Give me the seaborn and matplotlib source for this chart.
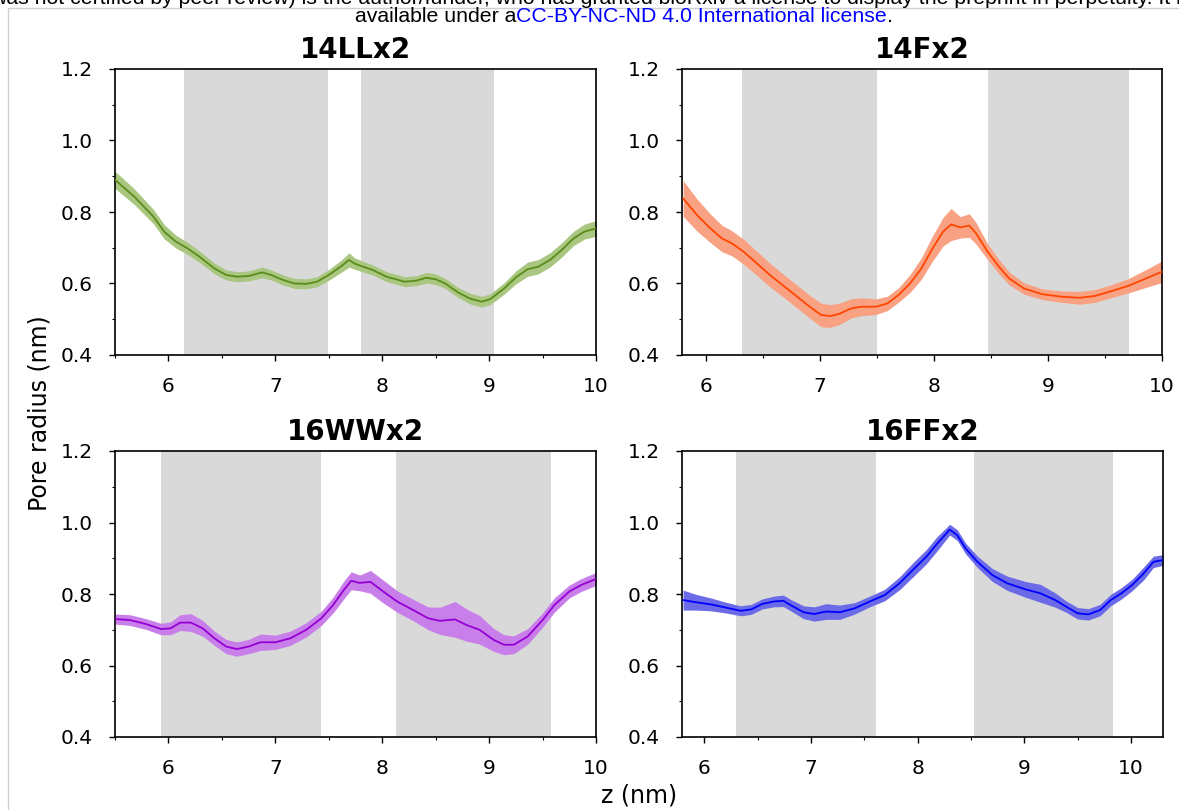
import matplotlib.pyplot as plt
from matplotlib.lines import Line2D
from matplotlib.ticker import MultipleLocator
import seaborn as sns
import numpy as np

# 14LLx2
z_ll = [5.5, 5.68, 5.86, 5.96, 6.07, 6.18, 6.29, 6.43, 6.54, 6.64, 6.75, 6.875, 6.96, 7.07,
        7.18, 7.29, 7.39, 7.5, 7.61, 7.69, 7.74, 7.82, 7.91, 8.04, 8.21, 8.32, 8.41, 8.5,
        8.59, 8.71, 8.82, 8.93, 9.01, 9.14, 9.25, 9.36, 9.46, 9.57, 9.68, 9.79, 9.89, 10.0]
r_ll = [0.89, 0.843, 0.787, 0.745, 0.717, 0.698, 0.675, 0.642, 0.624, 0.619, 0.621, 0.631, 0.624, 0.61,
        0.60, 0.599, 0.605, 0.624, 0.647, 0.666, 0.656, 0.647, 0.638, 0.619, 0.605, 0.608, 0.616, 0.612,
        0.60, 0.575, 0.558, 0.549, 0.556, 0.586, 0.617, 0.64, 0.647, 0.666, 0.694, 0.726, 0.745, 0.754]
e_ll = [0.024, 0.022, 0.02, 0.02, 0.018, 0.017, 0.016, 0.015, 0.014, 0.014, 0.014, 0.015, 0.014, 0.014,
        0.014, 0.014, 0.014, 0.015, 0.017, 0.02, 0.016, 0.015, 0.014, 0.014, 0.014, 0.014, 0.015, 0.015,
        0.014, 0.014, 0.015, 0.015, 0.015, 0.016, 0.018, 0.02, 0.02, 0.02, 0.02, 0.02, 0.021, 0.022]
spans_ll = [(6.15, 7.49), (7.8, 9.05)]

# 14Fx2
z_f = [5.8, 5.92, 6.04, 6.14, 6.23, 6.33, 6.43, 6.56, 6.69, 6.82, 6.91, 7.01, 7.09, 7.17,
       7.27, 7.36, 7.49, 7.59, 7.69, 7.79, 7.89, 7.98, 8.08, 8.15, 8.23, 8.31, 8.37, 8.47,
       8.57, 8.66, 8.79, 8.95, 9.12, 9.28, 9.41, 9.54, 9.7, 9.86, 10.0]
r_f = [0.838, 0.792, 0.754, 0.726, 0.712, 0.689, 0.661, 0.624, 0.591, 0.558, 0.535, 0.512, 0.509, 0.515,
       0.53, 0.535, 0.535, 0.544, 0.568, 0.60, 0.642, 0.694, 0.745, 0.765, 0.757, 0.762, 0.74, 0.689,
       0.647, 0.614, 0.586, 0.57, 0.563, 0.56, 0.565, 0.577, 0.593, 0.614, 0.633]
e_f = [0.05, 0.045, 0.04, 0.037, 0.035, 0.035, 0.034, 0.033, 0.032, 0.032, 0.032, 0.033, 0.032, 0.03,
       0.027, 0.025, 0.022, 0.02, 0.02, 0.025, 0.03, 0.035, 0.04, 0.045, 0.03, 0.033, 0.03, 0.022,
       0.02, 0.018, 0.016, 0.015, 0.016, 0.018, 0.018, 0.018, 0.02, 0.025, 0.03]
spans_f = [(6.32, 7.5), (8.47, 9.71)]

# 16WWx2
z_ww = [5.5, 5.64, 5.79, 5.93, 6.02, 6.11, 6.21, 6.32, 6.43, 6.54, 6.64, 6.75, 6.86, 7.0,
        7.14, 7.29, 7.43, 7.54, 7.64, 7.71, 7.79, 7.89, 8.0, 8.14, 8.29, 8.43, 8.54, 8.68,
        8.79, 8.91, 9.04, 9.14, 9.23, 9.36, 9.5, 9.61, 9.75, 9.86, 10.0]
r_ww = [0.73, 0.727, 0.716, 0.702, 0.704, 0.72, 0.72, 0.704, 0.676, 0.653, 0.646, 0.653, 0.665, 0.665,
        0.676, 0.70, 0.732, 0.769, 0.811, 0.837, 0.831, 0.834, 0.809, 0.779, 0.755, 0.732, 0.725, 0.729,
        0.713, 0.70, 0.672, 0.658, 0.658, 0.681, 0.727, 0.769, 0.807, 0.825, 0.842]
e_ww = [0.014, 0.015, 0.015, 0.016, 0.018, 0.022, 0.025, 0.022, 0.02, 0.02, 0.02, 0.02, 0.023, 0.02,
        0.02, 0.02, 0.02, 0.022, 0.025, 0.025, 0.022, 0.032, 0.032, 0.03, 0.03, 0.032, 0.038, 0.05,
        0.045, 0.04, 0.032, 0.028, 0.025, 0.022, 0.02, 0.02, 0.018, 0.018, 0.018]
spans_ww = [(5.93, 7.43), (8.13, 9.58)]

# 16FFx2
z_ff = [5.8, 5.92, 6.06, 6.2, 6.34, 6.44, 6.54, 6.65, 6.74, 6.82, 6.93, 7.03, 7.14, 7.27,
        7.41, 7.55, 7.69, 7.83, 7.97, 8.08, 8.18, 8.3, 8.37, 8.45, 8.56, 8.7, 8.84, 9.01,
        9.15, 9.29, 9.39, 9.5, 9.6, 9.71, 9.81, 9.91, 10.01, 10.12, 10.21, 10.3]
r_ff = [0.783, 0.777, 0.771, 0.762, 0.753, 0.757, 0.772, 0.779, 0.781, 0.767, 0.749, 0.744, 0.751, 0.749,
        0.76, 0.779, 0.797, 0.83, 0.872, 0.904, 0.94, 0.98, 0.965, 0.927, 0.89, 0.853, 0.83, 0.813,
        0.802, 0.783, 0.765, 0.746, 0.743, 0.755, 0.783, 0.802, 0.825, 0.858, 0.89, 0.895]
e_ff = [0.028, 0.022, 0.018, 0.015, 0.014, 0.014, 0.014, 0.015, 0.016, 0.016, 0.018, 0.02, 0.022, 0.02,
        0.016, 0.015, 0.016, 0.018, 0.02, 0.02, 0.02, 0.015, 0.015, 0.015, 0.016, 0.018, 0.02, 0.022,
        0.025, 0.02, 0.016, 0.016, 0.016, 0.016, 0.016, 0.016, 0.016, 0.018, 0.016, 0.015]
spans_ff = [(6.30, 7.61), (8.53, 9.83)]

titles = ["14LLx2", "14Fx2", "16WWx2", "16FFx2"]
line_colors = ["#5b8c1a", "#ff4500", "#9400d3", "#0000ff"]
band_colors = ["#a9c780", "#f9a283", "#c97fe9", "#6b6be8"]
xlims = [(5.5, 10), (5.79, 10), (5.5, 10), (5.79, 10.3)]

sns.set_style("ticks")
plt.rcParams["font.family"] = ["DejaVu Sans"]
plt.rcParams["axes.edgecolor"] = "black"
plt.rcParams["xtick.color"] = "black"
plt.rcParams["ytick.color"] = "black"
plt.rcParams["text.color"] = "black"

W, H = 1179, 810
fig = plt.figure(figsize=(W / 100, H / 100), dpi=100)

# axes boxes in pixels: left, top, right, bottom
boxes = [(115, 69, 596, 355), (682, 69, 1162, 355), (115, 451, 596, 737), (682, 451, 1163, 737)]

series = [(z_ll, r_ll, e_ll, spans_ll), (z_f, r_f, e_f, spans_f),
          (z_ww, r_ww, e_ww, spans_ww), (z_ff, r_ff, e_ff, spans_ff)]

for i, (z, r, e, spans) in enumerate(series):
    l, t, rr, b = boxes[i]
    ax = fig.add_axes([l / W, 1 - b / H, (rr - l) / W, (b - t) / H])
    z = np.array(z)
    r = np.array(r)
    e = np.array(e)

    for a, c in spans:
        ax.axvspan(a, c, color="#d9d9d9", lw=0, zorder=0)

    ax.fill_between(z, r - e, r + e, color=band_colors[i], lw=0, zorder=2)
    sns.lineplot(x=z, y=r, color=line_colors[i], lw=1.3, ax=ax, sort=False, estimator=None, zorder=3)

    ax.set_xlim(*xlims[i])
    ax.set_ylim(0.4, 1.2)
    ax.set_yticks([0.4, 0.6, 0.8, 1.0, 1.2])
    ax.xaxis.set_major_locator(MultipleLocator(1))
    ax.xaxis.set_minor_locator(MultipleLocator(0.5))
    ax.yaxis.set_minor_locator(MultipleLocator(0.1))
    ax.tick_params(which="major", direction="out", length=4, width=1, labelsize=14.5, pad=12)
    ax.tick_params(which="minor", direction="out", length=2.5, width=0.8)
    for s in ax.spines.values():
        s.set_visible(True)
        s.set_linewidth(1.2)
        s.set_color("black")
    ax.set_xlabel("")
    ax.set_ylabel("")
    ax.set_title(titles[i], fontsize=20, fontweight="bold", pad=8)

fig.text(40 / W, 1 - 413 / H, "Pore radius (nm)", rotation=90, ha="center", va="center", fontsize=17)
fig.text(639 / W, 1 - 803 / H, "z (nm)", ha="center", va="baseline", fontsize=17)

# page frame
fig.add_artist(Line2D([8 / W, 8 / W], [0, 1 - 8 / H], color="#d0d0d0", lw=1))
fig.add_artist(Line2D([8 / W, 1], [1 - 8 / H, 1 - 8 / H], color="#d0d0d0", lw=1))

# preprint header, first line is clipped by the page top
hdr = dict(fontsize=15.3, family=["Liberation Sans", "DejaVu Sans"], va="baseline")
fig.text(-9 / W, 1 - 4 / H, "was not certified by peer review) is the author/funder, who has granted bioRxiv "
         "a license to display the preprint in perpetuity. It is made", ha="left", **hdr)
fig.canvas.draw()
renderer = fig.canvas.get_renderer()
x0 = 355
y0 = 1 - 22 / H
t1 = fig.text(x0 / W, y0, "available under a", ha="left", **hdr)
x1 = t1.get_window_extent(renderer).x1
t2 = fig.text(x1 / W, y0, "CC-BY-NC-ND 4.0 International license", ha="left", color="#0000ff", **hdr)
x2 = t2.get_window_extent(renderer).x1
fig.text(x2 / W, y0, ".", ha="left", **hdr)

fig.savefig("out.png", dpi=100)
